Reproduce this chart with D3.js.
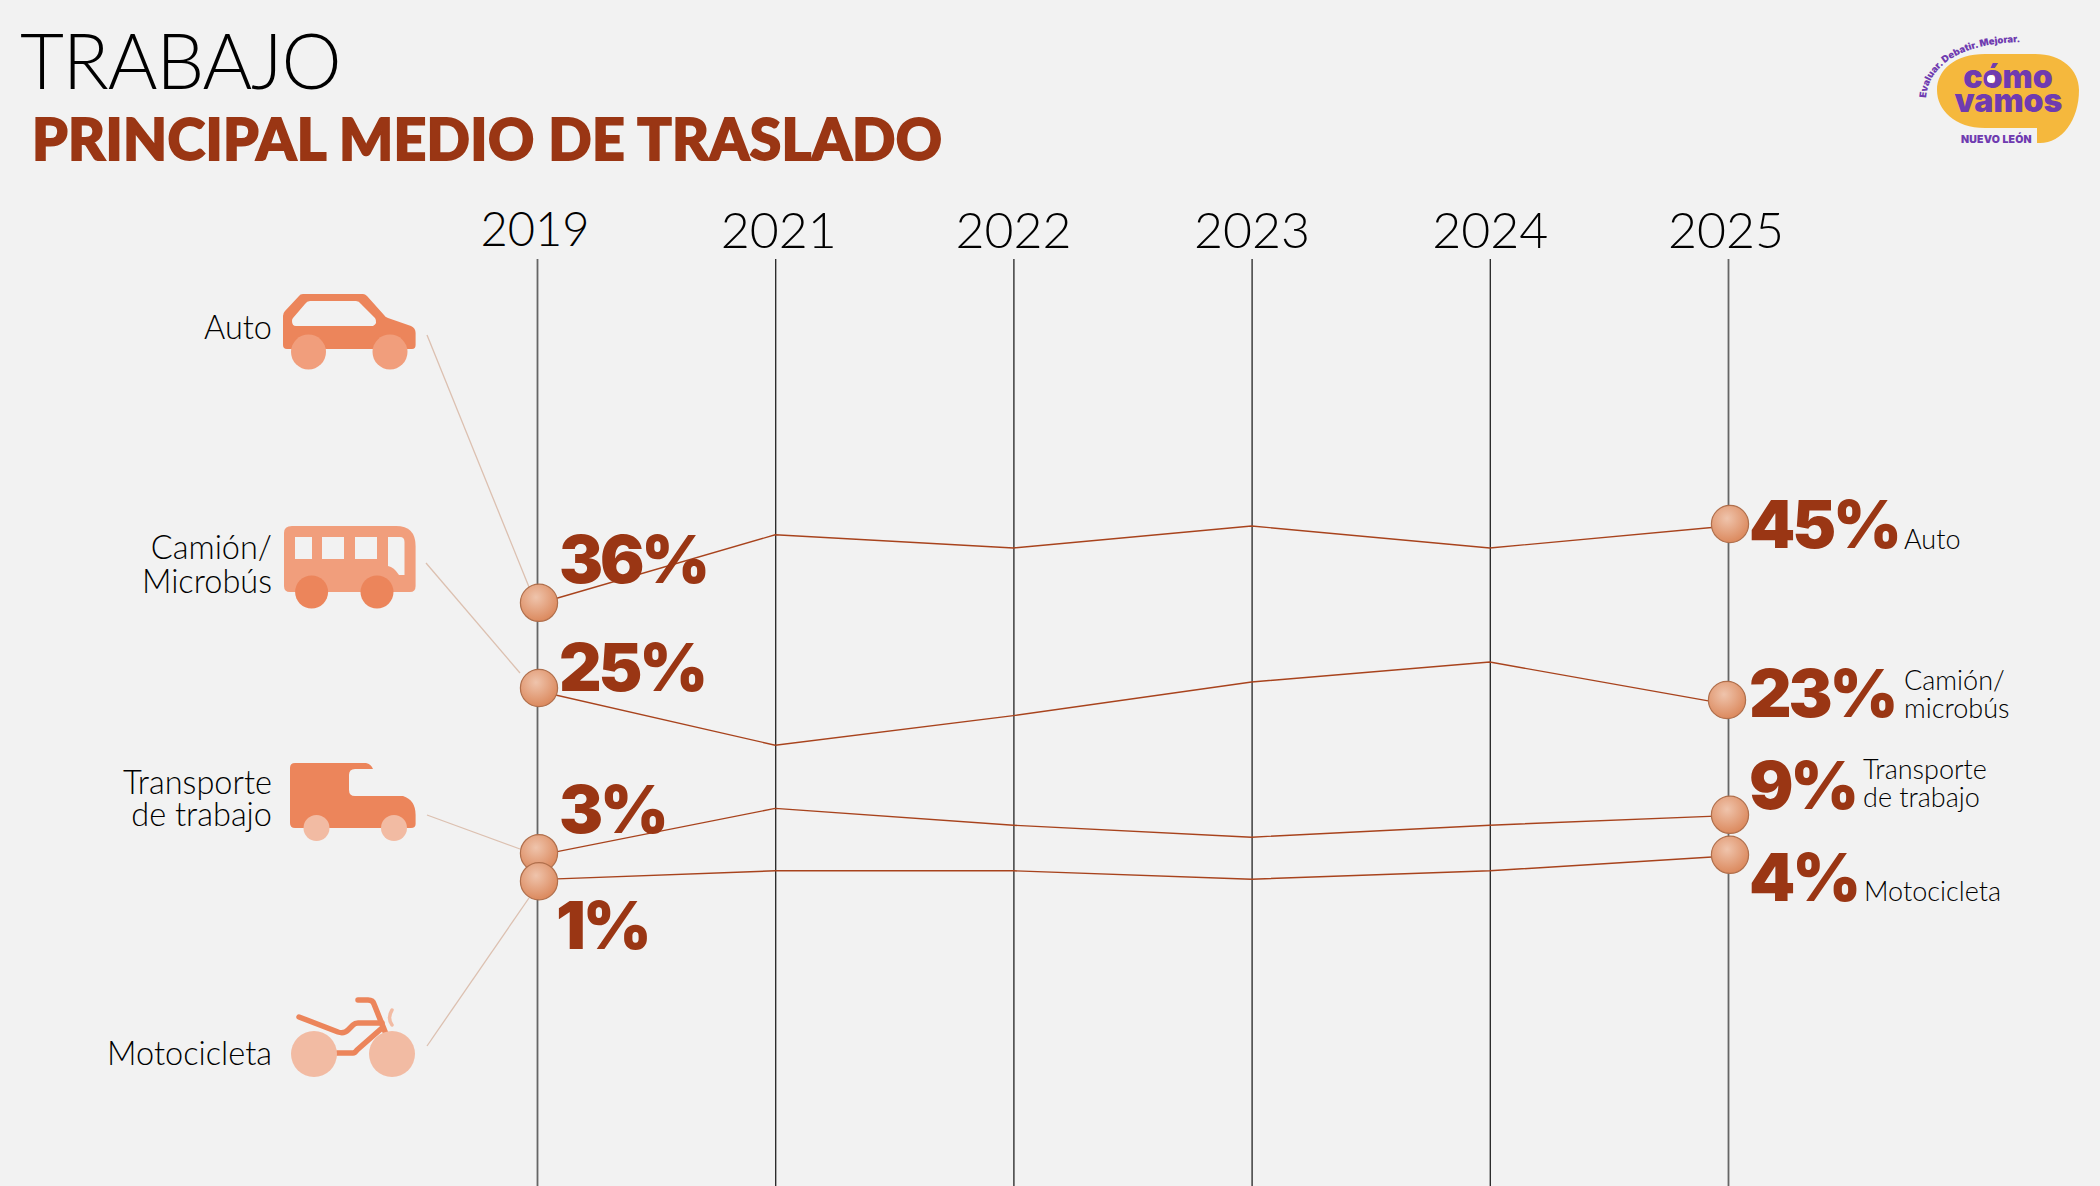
<!DOCTYPE html>
<html lang="es">
<head>
<meta charset="utf-8">
<title>Trabajo - Principal medio de traslado</title>
<script src="https://cdn.jsdelivr.net/npm/d3@7"></script>
<style>
	html, body { margin: 0; padding: 0; background: #f2f2f2; }
	svg { display: block; }
	text { font-family: Lato, sans-serif; }
	.thin { font-weight: 300; fill: #000; }
	.pct { font-family: Inter, sans-serif; font-weight: 900; fill: #9a3614; font-size: 66px; letter-spacing: -3.2px; }
	.label { font-weight: 300; fill: #000; font-size: 32.5px; }
	.labelSmall { font-weight: 300; fill: #000; font-size: 27px; }
	.logo { font-family: Inter, sans-serif; fill: #6f3bb0; font-weight: 900; }
</style>
</head>
<body>
<div id="chart"></div>
<script>
const years = ['2019', '2021', '2022', '2023', '2024', '2025'];

const auto = [35.25, 43.9, 42.25, 45, 42.25, 45];
const camion = [24.4, 17.6, 21.3, 25.5, 28, 22.7];
const transporte = [3.8, 9.7, 7.6, 6.1, 7.6, 8.8];
const moto = [0.8, 1.9, 1.9, 0.85, 1.9, 3.75];
const series = [auto, camion, transporte, moto];

// the balls do not sit exactly on the line ends in the original
const firstMarkers = [35.4, 24.75, 4.1, 0.6];
const lastMarkers = [45.25, 23.25, 8.9, 3.9];

// printed numbers
const firstLabels = ['36%', '25%', '3%', '1%'];
const lastLabels = ['45%', '23%', '9%', '4%'];

const leftNames = [['Auto'], ['Camión/', 'Microbús'], ['Transporte', 'de trabajo'], ['Motocicleta']];
const rightNames = [['Auto'], ['Camión/', 'microbús'], ['Transporte', 'de trabajo'], ['Motocicleta']];

const width = 2100;
const height = 1186;
const gridTop = 259;
const orange = '#ec855b';
const salmon = '#f19e7c';
const peach = '#f2bba3';
const bg = '#f2f2f2';

const xScale = d3.scalePoint().domain(years).range([537, 1728]);
const yScale = d3.scaleLinear().domain([45, 0]).range([526, 886]);

const svg = d3.select('#chart').append('svg')
	.attr('width', width)
	.attr('height', height)
	.attr('viewBox', [0, 0, width, height]);

svg.append('rect').attr('width', width).attr('height', height).attr('fill', bg);

const defs = svg.append('defs');
const ballGradient = defs.append('radialGradient')
	.attr('id', 'ball')
	.attr('cx', '0.42').attr('cy', '0.35').attr('r', '0.7');
ballGradient.append('stop').attr('offset', '0').attr('stop-color', '#efc4ac');
ballGradient.append('stop').attr('offset', '1').attr('stop-color', '#da8558');

// Title
svg.append('text').attr('class', 'thin')
	.attr('x', 20).attr('y', 89)
	.attr('font-size', 76)
	.attr('letter-spacing', -1.2)
	.text('TRABAJO');
svg.append('text')
	.attr('x', 32).attr('y', 160)
	.attr('font-size', 57)
	.attr('font-weight', 900)
	.attr('fill', '#9a3614')
	.attr('stroke', '#9a3614')
	.attr('stroke-width', 1.8)
	.attr('textLength', 910)
	.text('PRINCIPAL MEDIO DE TRASLADO');

// Year axis, the ticks are the long vertical lines
const xAxis = d3.axisBottom(xScale).tickSize(height - gridTop);
const axisGroup = svg.append('g')
	.attr('transform', 'translate(0,' + gridTop + ')')
	.call(xAxis);
axisGroup.select('.domain').remove();
axisGroup.selectAll('line')
	.attr('stroke', (d, i) => (i === 0 || i === years.length - 1) ? '#666' : '#222')
	.attr('stroke-width', (d, i) => (i === 0 || i === years.length - 1) ? 1.8 : 1.3);
axisGroup.selectAll('text')
	.attr('class', 'thin')
	.attr('y', (d, i) => i === 0 ? -13 : -11.5)
	.attr('dy', 0)
	.attr('dx', (d, i) => [-2.5, 3, -0.5, 0, 0, -2.5][i])
	.attr('font-family', 'Lato, sans-serif')
	.attr('font-size', (d, i) => i === 0 ? 47 : 50)
	.attr('text-anchor', 'middle');

// Thin lines from the icons to the first balls
const leaders = [
	[[427, 335], [529, 587]],
	[[426, 563], [520, 673]],
	[[427, 815], [520, 849]],
	[[427, 1046], [529, 898]]
];
svg.append('g').selectAll('line')
	.data(leaders)
	.enter().append('line')
	.attr('x1', d => d[0][0]).attr('y1', d => d[0][1])
	.attr('x2', d => d[1][0]).attr('y2', d => d[1][1])
	.attr('stroke', '#dcc0b0')
	.attr('stroke-width', 1.3);

// Series lines
const line = d3.line()
	.x((d, i) => xScale(years[i]))
	.y(d => yScale(d));
svg.append('g').selectAll('path')
	.data(series)
	.enter().append('path')
	.attr('d', line)
	.attr('fill', 'none')
	.attr('stroke', '#a8431d')
	.attr('stroke-width', 1.4);

// Balls, 3% goes before 1% so that the 1% one stays on top
const firstX = xScale(years[0]) + 2;
const lastX = xScale(years[years.length - 1]);
const lastShift = [2, -1, 2, 2];
const balls = svg.append('g');
firstMarkers.forEach(v => {
	balls.append('circle').attr('cx', firstX).attr('cy', yScale(v));
});
lastMarkers.forEach((v, i) => {
	balls.append('circle').attr('cx', lastX + lastShift[i]).attr('cy', yScale(v));
});
balls.selectAll('circle')
	.attr('r', 18.6)
	.attr('fill', 'url(#ball)')
	.attr('stroke', '#b06f4c')
	.attr('stroke-width', 1.2);

// Percent labels
const firstPos = [[559, 583], [559, 691], [559, 833], [556, 949]];
const lastPos = [[1749, 548], [1749, 717], [1749, 809], [1749, 901]];
svg.append('g').selectAll('text')
	.data(firstLabels)
	.enter().append('text')
	.attr('class', 'pct')
	.attr('x', (d, i) => firstPos[i][0])
	.attr('y', (d, i) => firstPos[i][1])
	.text(d => d);
svg.append('g').selectAll('text')
	.data(lastLabels)
	.enter().append('text')
	.attr('class', 'pct')
	.attr('x', (d, i) => lastPos[i][0])
	.attr('y', (d, i) => lastPos[i][1])
	.text(d => d);

// Names on the left, right aligned next to the icons
const leftBaselines = [[339], [559, 593], [794, 826], [1065]];
leftNames.forEach((rows, i) => {
	rows.forEach((row, j) => {
		svg.append('text').attr('class', 'label')
			.attr('x', 272)
			.attr('y', leftBaselines[i][j])
			.attr('text-anchor', 'end')
			.text(row);
	});
});

// Names on the right
const rightX = [1904, 1904, 1863, 1864];
const rightBaselines = [[549], [690, 718], [779, 807], [901]];
rightNames.forEach((rows, i) => {
	rows.forEach((row, j) => {
		svg.append('text').attr('class', 'labelSmall')
			.attr('x', rightX[i])
			.attr('y', rightBaselines[i][j])
			.text(row);
	});
});

// Icons
const icons = svg.append('g');

// car
icons.append('path').attr('fill', orange)
	.attr('d', 'M283,345 L283,316 Q283,313 285,311 L299,296 Q300,294 303,294 L363,294 Q365,294 367,296 L384,315 Q385,317 388,318 L411,326 Q415.6,328 415.6,333 L415.6,345 Q415.6,349 412,349 L287,349 Q283,349 283,345 Z');
icons.append('path').attr('fill', bg)
	.attr('d', 'M292,321 Q292,319 293,318 L305,304 Q307,301 310,301 L356,301 Q359,301 361,304 L375,318 Q378,323 373,326 L296,326 Q292,326 292,321 Z');
icons.selectAll(null).data([308.5, 390]).enter().append('ellipse')
	.attr('cx', d => d).attr('cy', 352).attr('rx', 17.5).attr('ry', 17.5).attr('fill', salmon);

// bus
icons.append('path').attr('fill', salmon)
	.attr('d', 'M284,586 L284,533 Q284,526 292,526 L396,526 Q415.6,526 415.6,546 L415.6,586 Q415.6,592 410,592 L290,592 Q284,592 284,586 Z');
icons.selectAll(null).data([[295, 17], [322, 22], [355, 22]]).enter().append('rect')
	.attr('x', d => d[0]).attr('y', 537).attr('width', d => d[1]).attr('height', 22).attr('fill', bg);
icons.append('path').attr('fill', bg)
	.attr('d', 'M388,537 L400,537 Q404.5,537 404.5,542 L404.5,575 L399,575 Q394,567 388,566 Z');
icons.selectAll(null).data([311.6, 377]).enter().append('circle')
	.attr('cx', d => d).attr('cy', 592).attr('r', 16.5).attr('fill', orange);

// van
icons.append('path').attr('fill', orange)
	.attr('d', 'M290,768 Q290,763 295,763 L366,763 Q371,764 373,769 L355,769 Q349,769 349,775 L349,790 Q349,796 355,796 L403,796 Q415.6,800 415.6,815 L415.6,824 Q415.6,828 411,828 L295,828 Q290,828 290,823 Z');
icons.selectAll(null).data([316.5, 394]).enter().append('circle')
	.attr('cx', d => d).attr('cy', 828).attr('r', 13).attr('fill', peach);

// motorcycle
const bike = icons.append('g').attr('fill', 'none').attr('stroke', orange).attr('stroke-width', 5.5).attr('stroke-linecap', 'round').attr('stroke-linejoin', 'round');
bike.append('path').attr('d', 'M299,1017 L338,1032 Q344,1034 348,1030 L353,1025 Q355,1023 358,1023 L382,1023');
bike.append('path').attr('d', 'M337,1053 L353,1053 Q355,1053 357,1050 L382,1028');
bike.append('path').attr('d', 'M358,1000 L368,1000 Q373,1000 374,1004 L386,1034');
icons.selectAll(null).data([314, 392]).enter().append('circle')
	.attr('cx', d => d).attr('cy', 1054).attr('r', 23).attr('fill', peach);
icons.append('path').attr('fill', 'none').attr('stroke', peach).attr('stroke-width', 3.5).attr('stroke-linecap', 'round')
	.attr('d', 'M392,1010 Q387,1018 392,1025');

// Logo
const logo = svg.append('g');
logo.append('path').attr('fill', '#f5b83d')
	.attr('d', 'M1985,54 L2035,54 C2062,54 2079,70 2079,90 C2079,120 2062,143 2040,143 L2037,143 L2037,128 L1985,128 C1955,128 1937,110 1937,90 C1937,70 1955,54 1985,54 Z');
logo.append('text').attr('class', 'logo').attr('x', 2008).attr('y', 88).attr('font-size', 32).attr('text-anchor', 'middle').text('cómo');
logo.append('circle').attr('cx', 1991).attr('cy', 79).attr('r', 4).attr('fill', '#fff');
logo.append('text').attr('class', 'logo').attr('x', 2008.5).attr('y', 112).attr('font-size', 32).attr('text-anchor', 'middle').text('vamos');
logo.append('text').attr('class', 'logo').attr('x', 1961).attr('y', 143).attr('font-size', 10.5).attr('font-weight', 700).attr('letter-spacing', 0.2).text('NUEVO LEÓN');
defs.append('path').attr('id', 'logoArc').attr('d', 'M1926,98 C1928,68 1958,41 2030,42');
logo.append('text').attr('class', 'logo').attr('font-size', 9.5).attr('font-weight', 600)
	.append('textPath').attr('href', '#logoArc').text('Evaluar. Debatir. Mejorar.');
</script>
</body>
</html>
